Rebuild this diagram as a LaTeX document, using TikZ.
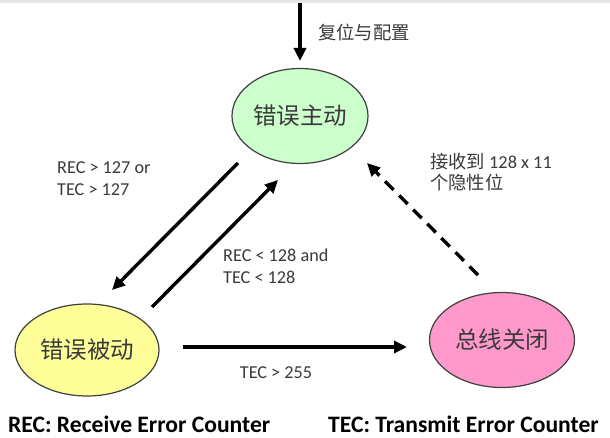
\documentclass[tikz,border=0pt]{standalone}
\usepackage{fontspec}
\setmainfont{Carlito}
\newfontfamily\cjk{Noto Sans CJK SC}
\usetikzlibrary{shapes.geometric,arrows.meta}
\definecolor{edgegray}{HTML}{404040}
\definecolor{txtgray}{HTML}{3A3A3A}
\definecolor{fillgreen}{HTML}{CCFFCC}
\definecolor{fillyellow}{HTML}{FFFF99}
\definecolor{fillpink}{HTML}{FF99CC}
\definecolor{topband}{HTML}{E6E6E6}
\tikzset{
  state/.style={ellipse, draw=edgegray, line width=1.2pt, inner sep=0pt,
    font=\cjk\fontsize{23.5}{23.5}\selectfont, text=txtgray},
  conn/.style={line width=3.4pt, draw=black, -{Triangle[length=13pt,width=12pt]}},
  lbl/.style={font=\fontsize{18.2}{22}\selectfont, text=txtgray, align=left, inner sep=0pt},
  cjklbl/.style={font=\cjk\fontsize{18.3}{21.5}\selectfont, text=txtgray, align=left, inner sep=0pt},
  legend/.style={font=\bfseries\fontsize{23.6}{26}\selectfont, text=black, inner sep=0pt}
}
\begin{document}
\begin{tikzpicture}[x=1pt,y=-1pt]
\useasboundingbox (0,0) rectangle (610,438);
\fill[topband] (0,0) rectangle (610,3);
% states
\node[state, fill=fillgreen, minimum width=136pt, minimum height=95pt] (G) at (300,116) {错误主动};
\node[state, fill=fillyellow, minimum width=144pt, minimum height=92pt] (Y) at (87,350) {错误被动};
\node[state, fill=fillpink, minimum width=145pt, minimum height=95pt] (P) at (502,340) {总线关闭};
% connector end points
\coordinate (top) at (300,3);
\coordinate (topend) at (300,61);
\coordinate (gy1) at (238,163);
\coordinate (gy2) at (112,290);
\coordinate (yg1) at (152,307);
\coordinate (yg2) at (278,180);
\coordinate (yp1) at (183,347);
\coordinate (yp2) at (407,347);
\coordinate (pg1) at (478,275);
\coordinate (pg2) at (367,163);
% connectors
\draw[conn] (top) -- (topend);
\draw[conn] (gy1) -- (gy2);
\draw[conn] (yg1) -- (yg2);
\draw[conn] (yp1) -- (yp2);
\draw[conn, dash pattern=on 12pt off 8pt] (pg1) -- (pg2);
% labels
\node[cjklbl, anchor=west] (l0) at (318,32) {复位与配置};
\node[lbl, anchor=west] (l1) at (57,179) {REC > 127 or\\TEC > 127};
\node[lbl, anchor=west] (l2) at (223,266) {REC < 128 and\\TEC < 128};
\node[lbl] (l3) at (276,373) {TEC > 255};
\node[cjklbl, anchor=west] (l4) at (430,172) {接收到 {\normalfont 128 x 11}\\个隐性位};
% legend
\node[legend, anchor=west] (r) at (8,424) {REC: Receive Error Counter};
\node[legend, anchor=west] (t) at (328,424) {TEC: Transmit Error Counter};
\end{tikzpicture}
\end{document}
